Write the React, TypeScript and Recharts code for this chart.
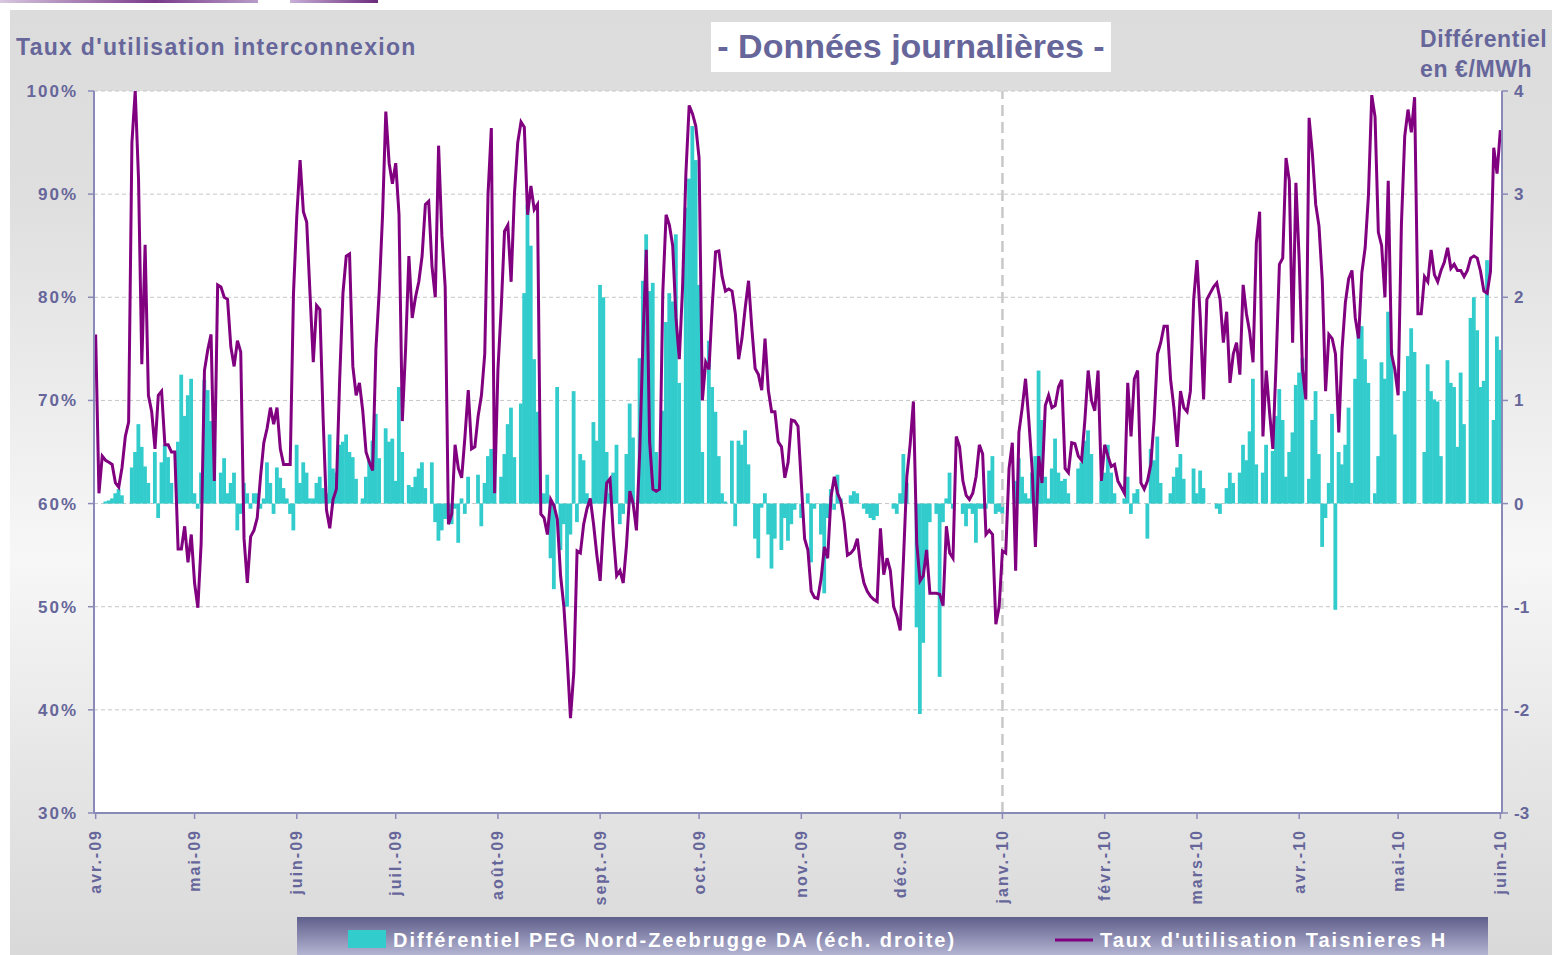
import React from 'react';
import { ComposedChart, Bar, Line, XAxis, YAxis, CartesianGrid, ReferenceLine } from 'recharts';

// premier jour de chaque mois (index de jour depuis le 1er avril 2009)
const monthTicks = [0, 30, 61, 91, 122, 153, 183, 214, 244, 275, 306, 334, 365, 395, 426];
const monthLabels = [
  'avr.-09', 'mai-09', 'juin-09', 'juil.-09', 'août-09', 'sept.-09', 'oct.-09', 'nov.-09',
  'déc.-09', 'janv.-10', 'févr.-10', 'mars-10', 'avr.-10', 'mai-10', 'juin-10'
];
const leftTicks = [30, 40, 50, 60, 70, 80, 90, 100];
const rightTicks = [-3, -2, -1, 0, 1, 2, 3, 4];

// Taux d'utilisation Taisnieres H (%), journalier
const tauxUtilisation = [
  76.4, 61, 64.6, 64.2, 64, 63.8, 62, 61.6, 63.5, 66.5,
  67.9, 95, 100, 91.5, 73.5, 85.1, 70.5, 68.9, 65.3, 70.5,
  70.9, 65.7, 65.7, 65, 65, 55.6, 55.6, 57.8, 54.3, 57,
  52.3, 49.9, 56.2, 72.9, 74.9, 76.4, 62.2, 81.2, 81, 80,
  79.8, 75.2, 73.3, 75.8, 74.7, 56.6, 52.3, 56.8, 57.4, 58.6,
  62.6, 65.9, 67.3, 69.3, 67.7, 69.3, 65.3, 63.8, 63.8, 63.8,
  80.4, 87.9, 93.3, 88.3, 87.3, 80.4, 73.7, 79.2, 78.8, 68.1,
  59.4, 57.6, 60.4, 61.4, 72, 80.4, 84, 84.2, 73.3, 70.5,
  71.7, 69, 65, 64, 63.2, 75, 80.6, 87.9, 98, 93,
  91, 93, 88, 68, 75, 84, 78, 80, 81.5, 84,
  89, 89.3, 83, 80, 94.7, 86, 81, 58, 59, 65.7,
  63.4, 62.5, 66.5, 71, 65.3, 65.5, 68.5, 70.5, 74.5, 90,
  96.4, 61, 73, 79, 86.4, 87, 81.5, 90, 95, 97,
  96.5, 88, 90.8, 88.5, 89, 59, 58.6, 57, 60.4, 59.8,
  58.5, 53, 50, 45, 39.2, 43.6, 55.4, 55.2, 58, 59.5,
  60.5, 58, 55, 52.5, 58, 62, 62.4, 57, 53, 53.5,
  52.3, 56, 61.2, 60, 57.4, 65, 76, 84.6, 66, 61.4,
  61.2, 61.4, 80.5, 88, 87, 85, 78, 74, 81, 92,
  98.6, 97.8, 96.6, 93.5, 70, 73.7, 73, 79.2, 84.4, 84.5,
  82, 80.6, 80.8, 80.6, 78.4, 74, 76, 79, 81.6, 77,
  73.1, 72.5, 71, 76, 71, 68.9, 68.9, 66, 65.5, 62.5,
  64, 68.1, 68, 67.5, 62, 56.6, 55.5, 51.5, 50.9, 50.8,
  52.7, 55.8, 54.7, 60.6, 62.6, 61, 60.2, 58.2, 55, 55.2,
  55.6, 56.6, 53.9, 52.3, 51.5, 51, 50.7, 50.5, 57.6, 53.1,
  54.7, 53.5, 50, 49.1, 47.7, 54.7, 62.6, 65.7, 69.9, 56.2,
  52.5, 53, 55.5, 51.3, 51.3, 51.3, 51.2, 50.1, 57.8, 55.2,
  54.7, 66.5, 65.5, 62.2, 60.8, 60.4, 61, 62.6, 65.7, 64.8,
  57, 57.4, 57, 48.3, 50, 55.4, 55.2, 63.4, 65.9, 53.5,
  66.9, 69.3, 72.1, 68.1, 63.4, 55.8, 64.6, 62, 69.5, 70.5,
  69.3, 69.5, 71.3, 72, 63.4, 63, 65.9, 65.8, 64.6, 64.2,
  68.1, 72.9, 70, 69, 72.9, 62.2, 65.7, 64.6, 63.6, 63.8,
  62.2, 61.6, 61, 71.7, 66.5, 72.1, 72.9, 62, 61.4, 62.2,
  63.8, 68.1, 74.5, 75.6, 77.2, 77.2, 72, 69.3, 65.5, 70.9,
  69.3, 68.9, 70.9, 79.8, 83.6, 78, 70.1, 79.8, 80.4, 81,
  81.4, 79.8, 75.6, 78.6, 71.7, 74.5, 75.6, 72.5, 81.2, 78.4,
  76.6, 73.7, 85.3, 88.3, 66.5, 72.9, 68.9, 65.3, 73.7, 83.2,
  83.8, 93.5, 91.3, 75.6, 91.1, 83.6, 73, 70.1, 97.4, 93.9,
  89, 86.9, 81.6, 70.9, 76.4, 76, 74.5, 66.9, 75, 79.5,
  81.8, 82.6, 78, 76, 82.4, 84.8, 89.9, 99.6, 97.5, 86.3,
  85, 80, 91.3, 74.5, 73, 70.5, 87.1, 95.6, 98.2, 96,
  99.4, 78.4, 78.4, 82, 81.5, 84.6, 82.2, 81.5, 82.6, 83.4,
  84.8, 82.8, 83.2, 82.6, 82.6, 82, 82.6, 83.8, 84, 83.8,
  82.5, 80.6, 80.4, 82.5, 94.5, 92, 96.2
];

// Différentiel PEG Nord - Zeebrugge DA (€/MWh), journalier
const differentiel = [
  0, 0, 0, 0.02, 0.03, 0.05, 0.1, 0.14, 0.08, 0,
  0, 0.35, 0.5, 0.77, 0.55, 0.36, 0.2, 0, 0.5, -0.14,
  0.4, 0.57, 0.45, 0.2, 0, 0.6, 1.25, 0.85, 1.05, 1.21,
  0.1, -0.05, 0.3, 1.2, 1.1, 0.8, 0.55, 0, 0.3, 0.44,
  0.1, 0.2, 0.3, -0.26, -0.1, 0.2, 0.1, -0.05, 0.1, 0.1,
  -0.05, 0.05, 0.4, 0.2, -0.1, 0.35, 0.25, 0.15, 0.05, -0.1,
  -0.26, 0.57, 0.2, 0.4, 0.3, 0.05, 0.05, 0.2, 0.26, 0.15,
  0.1, 0.67, 0.34, 0.3, 0.57, 0.6, 0.67, 0.5, 0.45, 0.24,
  0, 0.05, 0.26, 0.42, 0.61, 0.87, 0.44, 0, 0.73, 0.6,
  0.63, 0.22, 1.13, 0.5, 0, 0.18, 0.16, 0.26, 0.34, 0.4,
  0.15, 0, 0.4, -0.18, -0.36, -0.26, -0.15, -0.1, -0.2, -0.05,
  -0.38, 0.05, -0.1, 0.26, 0, 0, 0.28, -0.22, 0.2, 0.46,
  0.53, 0.4, 0, 0.26, 0.48, 0.77, 0.93, 0.45, 0, 0.97,
  2.04, 2.9, 2.5, 1.4, 0.89, 0, 0.1, 0.28, -0.53, -0.83,
  1.13, -0.45, -0.2, -1.0, -0.3, 1.09, -0.18, 0.48, 0.42, 0.1,
  0.05, 0.79, 0.61, 2.12, 2.0, 0.5, 0.1, 0.3, 0.57, -0.2,
  -0.1, 0.48, 0.97, 0.64, 0, 1.41, 2.16, 2.61, 2.06, 2.14,
  0.5, 0.2, 0.9, 1.76, 2.04, 1.96, 2.61, 1.17, 0, 2.87,
  3.15, 3.66, 3.33, 2.12, 0.5, 0, 1.58, 1.13, 0.89, 0.46,
  0.1, 0.02, 0, 0.61, -0.22, 0.61, 0.57, 0.71, 0.38, 0,
  -0.34, -0.53, -0.04, 0.1, -0.3, -0.63, -0.34, 0, -0.45, -0.14,
  -0.36, -0.2, -0.06, 0, -0.14, 0, 0.1, -0.57, -0.05, 0,
  -0.3, -0.87, -0.14, 0.14, -0.06, 0.28, 0.05, 0, 0, 0.08,
  0.12, 0.1, 0, -0.05, -0.1, -0.14, -0.16, -0.12, 0, 0,
  0, 0, -0.05, -0.1, 0.1, 0.48, 0.2, 0, 0, -1.2,
  -2.04, -1.35, -0.5, -0.18, 0, -0.1, -1.68, -0.18, 0.05, 0.3,
  -0.05, 0, 0, -0.1, -0.22, -0.05, -0.1, -0.38, -0.05, -0.05,
  -0.05, 0.32, 0.46, -0.1, -0.08, -0.1, 0, 0, 0, 0.22,
  0.44, 0.26, 0.1, 0.05, 0.3, 0.46, 1.29, 0.81, 0.26, 0.05,
  0.34, 0.63, 0.3, 0.22, 0.24, 0.1, 0, 0, 0.34, 0.4,
  0.61, 0.71, 0.48, 0, 0, 0.22, 0.3, 0.57, 0.3, 0.1,
  0, 0, 0.05, 0.26, -0.1, 0.1, 0.14, 0, 0, -0.34,
  0.53, 0.42, 0.65, 0.2, 0, 0, 0.1, 0.26, 0.35, 0.48,
  0.24, 0, 0, 0.34, 0.1, 0.32, 0.15, 0, 0, 0,
  -0.05, -0.1, 0, 0.15, 0.3, 0.2, 0, 0.3, 0.57, 0.42,
  0.7, 1.21, 0.38, 0, 0.3, 0.57, 0, 0.51, 0.85, 1.11,
  0.81, 0.26, 0.5, 0.69, 1.15, 1.27, 1.41, 0, 0.24, 0.81,
  1.09, 0.48, -0.42, -0.14, 0.2, 0.87, -1.03, 0.5, 0.38, 0.57,
  0.93, 0.2, 1.21, 1.72, 1.72, 1.4, 1.17, 0, 0.1, 0.46,
  1.37, 1.21, 1.86, 1.49, 0.67, 0, 0, 1.09, 1.43, 1.7,
  1.47, 0, 0, 0.5, 1.35, 1.09, 1.01, 0.99, 0.46, 0,
  1.39, 1.17, 1.13, 0.55, 1.27, 0.77, 0, 1.8, 2.0, 1.68,
  1.13, 1.19, 2.36, 0, 0.81, 1.62, 1.49
];

const data = tauxUtilisation.map((taux, day) => ({ day, taux, diff: differentiel[day] }));

const textColor = '#66669a';
const axisColor = '#8a8ab8';
const font = "'Liberation Sans', Arial, sans-serif";

const MonthTick = ({ x, y, payload }: any) => {
  const label = monthLabels[monthTicks.indexOf(payload.value)] ?? '';
  const ty = y + 8;
  return (
    <text
      x={x}
      y={ty}
      transform={`rotate(-90, ${x}, ${ty})`}
      textAnchor="end"
      dominantBaseline="central"
      fill={textColor}
      fontSize={16}
      fontWeight="bold"
      fontFamily={font}
      letterSpacing={2}
    >
      {label}
    </text>
  );
};

// barres jointives : on élargit un peu chaque barre pour éviter les interstices
const SolidBar = (props: any) => {
  const { x, y, width, height, fill } = props;
  if (!height) return null;
  const top = Math.min(y, y + height);
  return <rect x={x - 0.4} y={top} width={width + 0.8} height={Math.abs(height)} fill={fill} />;
};

const tickStyle = { fill: textColor, fontSize: 17, fontWeight: 'bold' as const, fontFamily: font };
const leftTickStyle = { ...tickStyle, letterSpacing: 2 };

export default function App() {
  return (
    <div style={{ position: 'absolute', left: 0, top: 0, width: 1552, height: 955, overflow: 'hidden', background: '#fff' }}>
      {/* bandeau coupé en haut */}
      <div style={{ position: 'absolute', left: 0, top: 0, width: 258, height: 3, background: 'linear-gradient(90deg, #d8c8e0, #7a3a8a 60%, #b89cc8)' }} />
      <div style={{ position: 'absolute', left: 290, top: 0, width: 88, height: 3, background: 'linear-gradient(90deg, #c8b0d8, #6a2a7a)' }} />
      <div
        style={{
          position: 'absolute', left: 10, top: 10, width: 1542, height: 945,
          background: 'linear-gradient(180deg, #dcdcdc 0%, #dfdfdf 20%, #f7f7f7 58%, #e6e6e6 80%, #d9d9d9 100%)'
        }}
      />
      <div style={{ position: 'absolute', left: 0, top: 0 }}>
        <ComposedChart
          width={1552}
          height={955}
          data={data}
          margin={{ top: 91, right: 0, bottom: 52, left: 0 }}
          barCategoryGap={0}
          barGap={0}
        >
          <CartesianGrid
            yAxisId="left"
            vertical={false}
            stroke="#c6c6c6"
            strokeDasharray="4 3"
            fill="#ffffff"
          />
          <XAxis
            dataKey="day"
            type="category"
            ticks={monthTicks}
            interval={0}
            tick={<MonthTick />}
            height={90}
            tickSize={6}
            stroke={axisColor}
            axisLine={{ stroke: axisColor, strokeWidth: 2 }}
            tickLine={{ stroke: axisColor, strokeWidth: 1.5 }}
          />
          <YAxis
            yAxisId="left"
            domain={[30, 100]}
            ticks={leftTicks}
            allowDataOverflow
            width={94}
            tickSize={6}
            tickMargin={10}
            tickFormatter={(v) => `${v}%`}
            tick={leftTickStyle}
            axisLine={{ stroke: axisColor, strokeWidth: 2 }}
            tickLine={{ stroke: axisColor, strokeWidth: 1.5 }}
          />
          <YAxis
            yAxisId="right"
            orientation="right"
            domain={[-3, 4]}
            ticks={rightTicks}
            allowDataOverflow
            width={50}
            tickSize={6}
            tickMargin={6}
            tick={tickStyle}
            axisLine={{ stroke: axisColor, strokeWidth: 2 }}
            tickLine={{ stroke: axisColor, strokeWidth: 1.5 }}
          />
          <ReferenceLine yAxisId="left" x={275} stroke="#c8c8c8" strokeWidth={2.5} strokeDasharray="11 6" />
          <Bar yAxisId="right" dataKey="diff" fill="#33cccc" shape={<SolidBar />} isAnimationActive={false} />
          <Line
            yAxisId="left"
            dataKey="taux"
            type="linear"
            stroke="#800080"
            strokeWidth={3}
            dot={false}
            isAnimationActive={false}
          />
        </ComposedChart>
      </div>
      <svg width={1552} height={955} style={{ position: 'absolute', left: 0, top: 0, pointerEvents: 'none' }}>
        <defs>
          <linearGradient id="legendBg" x1="0" y1="0" x2="0" y2="1">
            <stop offset="0%" stopColor="#5f5f8c" />
            <stop offset="100%" stopColor="#b8b8d6" />
          </linearGradient>
        </defs>
        <text x={16} y={55} fill={textColor} fontSize={23} fontWeight="bold" fontFamily={font} letterSpacing={1.3}>
          Taux d'utilisation interconnexion
        </text>
        <rect x={711} y={22} width={400} height={50} fill="#ffffff" />
        <text x={911} y={58} textAnchor="middle" fill={textColor} fontSize={34} fontWeight="bold" fontFamily={font}>
          - Données journalières -
        </text>
        <text x={1420} y={47} fill={textColor} fontSize={23} fontWeight="bold" fontFamily={font} letterSpacing={0.6}>
          Différentiel
        </text>
        <text x={1420} y={77} fill={textColor} fontSize={23} fontWeight="bold" fontFamily={font} letterSpacing={0.6}>
          en €/MWh
        </text>
        <rect x={297} y={917} width={1191} height={40} fill="url(#legendBg)" />
        <rect x={348} y={930} width={38} height={18} fill="#33cccc" />
        <text x={393} y={947} fill="#ffffff" fontSize={20} fontWeight="bold" fontFamily={font} letterSpacing={2}>
          Différentiel PEG Nord-Zeebrugge DA (éch. droite)
        </text>
        <line x1={1055} y1={940} x2={1093} y2={940} stroke="#800080" strokeWidth={3} />
        <text x={1100} y={947} fill="#ffffff" fontSize={20} fontWeight="bold" fontFamily={font} letterSpacing={2}>
          Taux d'utilisation Taisnieres H
        </text>
      </svg>
    </div>
  );
}
